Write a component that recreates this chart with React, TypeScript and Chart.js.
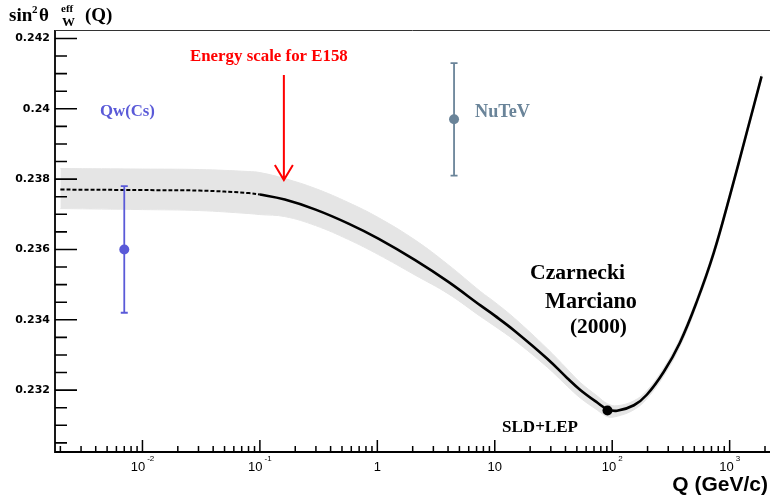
import React, { useEffect, useRef } from "react";
import { Chart, registerables } from "chart.js";
Chart.register(...registerables);

// ---- data ----
const CURVE_Q = [0.002, 0.01, 0.0305, 0.0806, 0.1, 0.163, 0.298, 0.568, 1.02, 2.1, 4.0, 7.6, 10, 14.7, 28, 41.5, 53.5, 75, 91.19, 110, 153, 197, 275, 377, 525, 733, 1000, 1398, 1870];
const CURVE_S = [0.237703, 0.237688, 0.237674, 0.237603, 0.23756, 0.237418, 0.237133, 0.236735, 0.236308, 0.235696, 0.235084, 0.234401, 0.234117, 0.23369, 0.232893, 0.232338, 0.232004, 0.23164, 0.231455, 0.231413, 0.231569, 0.231868, 0.232523, 0.233348, 0.234515, 0.23591, 0.237503, 0.239325, 0.240919];
const BAND_UP = [0.000598, 0.000598, 0.000598, 0.000612, 0.000626, 0.000598, 0.000598, 0.000598, 0.000598, 0.000569, 0.000484, 0.000398, 0.000384, 0.000356, 0.000285, 0.000256, 0.000213, 0.000185, 0.000157, 0.000142, 0.000128, 0.000114, 0.000114, 0.000114, 0.0001, 0.0001, 0.000085, 0.000085, 0.000085];
const BAND_DOWN = [0.000541, 0.000555, 0.000569, 0.000583, 0.000569, 0.000484, 0.000455, 0.000455, 0.000455, 0.000427, 0.000342, 0.000313, 0.000299, 0.00027, 0.000242, 0.000228, 0.000228, 0.000213, 0.000213, 0.000157, 0.000128, 0.000114, 0.000114, 0.000114, 0.0001, 0.0001, 0.000085, 0.000085, 0.000085];
const DASH_END_Q = 0.1;

const MEAS_NAMES = ["Qw(Cs)", "NuTeV", "SLD+LEP"];
const MEAS_Q = [0.0070, 4.5, 91.19];
const MEAS_S = [0.2360, 0.2397, 0.23142];
const MEAS_ERR = [0.0018, 0.0016, 0];

const E158_Q = 0.16;

const Y_MAJOR = [0.232, 0.234, 0.236, 0.238, 0.24, 0.242];
const Y_LABELS = ["0.232", "0.234", "0.236", "0.238", "0.24", "0.242"];
const X_MAJOR = [0.01, 0.1, 1, 10, 100, 1000];
const X_LABEL_BASE = ["10", "10", "1", "10", "10", "10"];
const X_LABEL_EXP = ["-2", "-1", "", "", "2", "3"];

const X_MIN = 0.0018, X_MAX = 2000;
const Y_MIN = 0.23024, Y_MAX = 0.24224;

// ---- styles ----
const BAND_COLOR = "#e5e5e5";
const MEAS_COLORS = ["#5a5ad8", "#6a8499", "#000000"];
const SERIF = "'Liberation Serif', 'DejaVu Serif', serif";
const SANS = "'Liberation Sans', Arial, sans-serif";

function pts(ys: number[]) {
  return CURVE_Q.map((q, i) => ({ x: q, y: ys[i] }));
}

function fitText(ctx: CanvasRenderingContext2D, text: string, left: number, right: number, cy: number, color: string) {
  const base = 20;
  ctx.font = `bold ${base}px ${SERIF}`;
  const w = ctx.measureText(text).width;
  const size = (base * (right - left)) / w;
  ctx.font = `bold ${size.toFixed(2)}px ${SERIF}`;
  ctx.fillStyle = color;
  ctx.textAlign = "left";
  ctx.textBaseline = "middle";
  ctx.fillText(text, left, cy);
}

const overlay = {
  id: "overlay",
  afterDatasetsDraw(chart: any) {
    const ctx: CanvasRenderingContext2D = chart.ctx;
    const xs = chart.scales.x, ys = chart.scales.y;
    ctx.save();
    MEAS_Q.forEach((q, i) => {
      if (!MEAS_ERR[i]) return;
      const px = xs.getPixelForValue(q);
      const y1 = ys.getPixelForValue(MEAS_S[i] + MEAS_ERR[i]);
      const y2 = ys.getPixelForValue(MEAS_S[i] - MEAS_ERR[i]);
      ctx.strokeStyle = MEAS_COLORS[i];
      ctx.lineWidth = 1.8;
      ctx.beginPath();
      ctx.moveTo(px, y1); ctx.lineTo(px, y2);
      ctx.moveTo(px - 3.5, y1); ctx.lineTo(px + 3.5, y1);
      ctx.moveTo(px - 3.5, y2); ctx.lineTo(px + 3.5, y2);
      ctx.stroke();
    });
    ctx.restore();
  },
  afterDraw(chart: any) {
    const ctx: CanvasRenderingContext2D = chart.ctx;
    const xs = chart.scales.x, ys = chart.scales.y;
    const a = chart.chartArea;
    ctx.save();
    ctx.strokeStyle = "#000";
    ctx.lineWidth = 1.8;
    ctx.beginPath();
    ctx.moveTo(a.left, a.top); ctx.lineTo(a.left, a.bottom); ctx.lineTo(770, a.bottom);
    ctx.stroke();
    ctx.strokeStyle = "#333";
    ctx.lineWidth = 1;
    ctx.beginPath();
    ctx.moveTo(a.left, a.top + 0.5); ctx.lineTo(770, a.top + 0.5);
    ctx.stroke();

    ctx.strokeStyle = "#000";
    ctx.lineWidth = 1.6;
    ctx.beginPath();
    for (let k = Math.ceil(Y_MIN / 0.0005); k * 0.0005 <= Y_MAX; k++) {
      const v = k * 0.0005;
      const major = Y_MAJOR.some((m) => Math.abs(m - v) < 1e-9);
      const py = ys.getPixelForValue(v);
      ctx.moveTo(a.left, py); ctx.lineTo(a.left + (major ? 22 : 12), py);
    }
    ctx.stroke();
    ctx.fillStyle = "#000";
    ctx.font = `bold 11px 'DejaVu Sans', sans-serif`;
    ctx.textAlign = "right";
    ctx.textBaseline = "middle";
    Y_MAJOR.forEach((v, i) => ctx.fillText(Y_LABELS[i], 50, ys.getPixelForValue(v)));

    ctx.lineWidth = 1.5;
    ctx.beginPath();
    for (let e = -3; e <= 3; e++) {
      for (let m = 1; m <= 9; m++) {
        const v = m * Math.pow(10, e);
        if (v < X_MIN || v > X_MAX) continue;
        const px = xs.getPixelForValue(v);
        ctx.moveTo(px, a.bottom); ctx.lineTo(px, a.bottom - (m === 1 ? 12 : 6));
      }
    }
    ctx.stroke();
    X_MAJOR.forEach((v, i) => {
      const px = xs.getPixelForValue(v);
      ctx.font = `13px ${SANS}`;
      const wb = ctx.measureText(X_LABEL_BASE[i]).width;
      ctx.font = `8px ${SANS}`;
      const we = X_LABEL_EXP[i] ? ctx.measureText(X_LABEL_EXP[i]).width + 2 : 0;
      const left = px - (wb + we) / 2;
      ctx.textAlign = "left";
      ctx.textBaseline = "middle";
      ctx.font = `13px ${SANS}`;
      ctx.fillText(X_LABEL_BASE[i], left, 467);
      if (X_LABEL_EXP[i]) {
        ctx.font = `8px ${SANS}`;
        ctx.fillText(X_LABEL_EXP[i], left + wb + 2, 459);
      }
    });

    ctx.font = `bold 21px ${SANS}`;
    ctx.textAlign = "right";
    ctx.textBaseline = "middle";
    ctx.fillText("Q (GeV/c)", 768, 485);

    ctx.textAlign = "left";
    ctx.textBaseline = "alphabetic";
    ctx.font = `bold 19px ${SERIF}`;
    ctx.fillText("sin", 9, 21);
    ctx.font = `bold 11px ${SERIF}`;
    ctx.fillText("2", 32, 13);
    ctx.font = `bold 19px ${SERIF}`;
    ctx.fillText("θ", 39, 21);
    ctx.font = `bold 11px ${SERIF}`;
    ctx.fillText("eff", 61, 12);
    ctx.font = `bold 13px ${SERIF}`;
    ctx.fillText("W", 62, 26);
    ctx.font = `bold 19px ${SERIF}`;
    ctx.fillText("(Q)", 85, 21);

    fitText(ctx, "Energy scale for E158", 190, 348, 57, "#ff0000");
    fitText(ctx, MEAS_NAMES[0], 100, 155, 112, MEAS_COLORS[0]);
    fitText(ctx, MEAS_NAMES[1], 475, 530, 112, MEAS_COLORS[1]);
    fitText(ctx, "Czarnecki", 530, 625, 273, "#000");
    fitText(ctx, "Marciano", 545, 637, 302, "#000");
    fitText(ctx, "(2000)", 570, 627, 327, "#000");
    fitText(ctx, MEAS_NAMES[2], 502, 578, 428, "#000");

    const ax = xs.getPixelForValue(E158_Q);
    ctx.strokeStyle = "#ff0000";
    ctx.lineWidth = 2;
    ctx.beginPath();
    ctx.moveTo(ax, 75); ctx.lineTo(ax, 180);
    ctx.moveTo(ax - 9, 165); ctx.lineTo(ax, 180); ctx.lineTo(ax + 9, 165);
    ctx.stroke();
    ctx.restore();
  },
};

export default function App() {
  const ref = useRef<HTMLCanvasElement>(null);
  useEffect(() => {
    if (!ref.current) return;
    const meas = MEAS_Q.map((q, i) => ({
      label: MEAS_NAMES[i],
      data: [{ x: q, y: MEAS_S[i] }],
      showLine: false,
      pointRadius: 5,
      pointBackgroundColor: MEAS_COLORS[i],
      pointBorderColor: MEAS_COLORS[i],
      pointBorderWidth: 0,
      order: 0,
    }));
    const bandHi = CURVE_S.map((s, i) => s + BAND_UP[i]);
    const bandLo = CURVE_S.map((s, i) => s - BAND_DOWN[i]);
    const smooth = { tension: 0.4, cubicInterpolationMode: "default" };
    const chart = new Chart(ref.current, {
      type: "line",
      data: {
        datasets: [
          ...meas,
          {
            label: "curve",
            data: pts(CURVE_S),
            borderColor: "#000",
            borderWidth: 2.6,
            pointRadius: 0,
            fill: false,
            ...smooth,
            segment: {
              borderDash: (c: any) => (c.p1.parsed.x <= DASH_END_Q ? [4, 2] : undefined),
              borderWidth: (c: any) => (c.p1.parsed.x <= DASH_END_Q ? 2 : 2.6),
            },
            order: 1,
          },
          {
            label: "bandHi",
            data: pts(bandHi),
            borderColor: BAND_COLOR,
            backgroundColor: BAND_COLOR,
            borderWidth: 1,
            pointRadius: 0,
            fill: "+1",
            ...smooth,
            order: 5,
          },
          {
            label: "bandLo",
            data: pts(bandLo),
            borderColor: BAND_COLOR,
            borderWidth: 1,
            pointRadius: 0,
            fill: false,
            ...smooth,
            order: 5,
          },
        ],
      } as any,
      options: {
        animation: false,
        responsive: false,
        devicePixelRatio: 1,
        layout: { padding: { left: 55, top: 30, right: 2, bottom: 51 } },
        scales: {
          x: { type: "logarithmic", min: X_MIN, max: X_MAX, display: false },
          y: { type: "linear", min: Y_MIN, max: Y_MAX, display: false },
        },
        plugins: { legend: { display: false }, tooltip: { enabled: false } },
      } as any,
      plugins: [overlay],
    });
    return () => chart.destroy();
  }, []);
  return (
    <div style={{ position: "absolute", left: 0, top: 0, width: 770, height: 503, background: "#fff" }}>
      <canvas ref={ref} width={770} height={503} />
    </div>
  );
}
